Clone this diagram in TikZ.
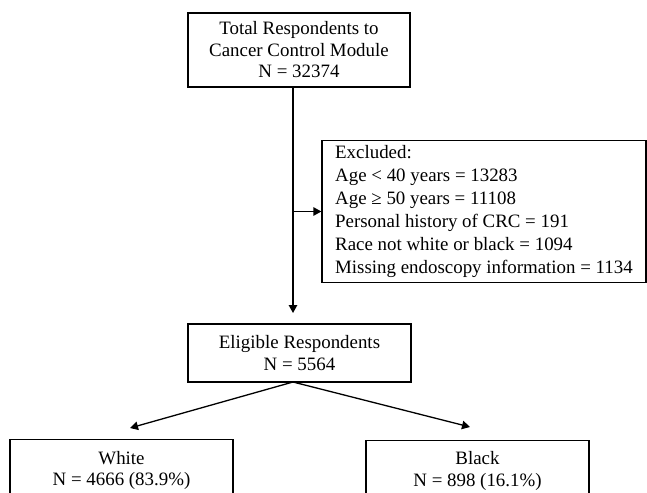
\documentclass[tikz,border=0pt]{standalone}
\usepackage{fontspec}
\setmainfont{Liberation Serif}
\usetikzlibrary{arrows.meta}
\tikzset{
  box/.style={draw=black, line width=1.3pt, align=center, inner sep=0pt,
    font=\fontsize{18.9}{21.5}\selectfont},
  exbox/.style={draw=black, line width=1.3pt, align=left, inner sep=0pt,
    font=\fontsize{18.9}{23}\selectfont},
  conn/.style={line width=1.3pt, -{Triangle[length=8pt,width=8.5pt]}},
  plain/.style={line width=1.3pt}
}
\begin{document}
\begin{tikzpicture}[x=1pt,y=-1pt]
\useasboundingbox (0,0) rectangle (647,492);
\clip (0,0) rectangle (647,492);
\node[box, minimum width=222pt, minimum height=74pt] (top) at (299,50)
  {Total Respondents to\\Cancer Control Module\\N = 32374};
\node[exbox, minimum width=324pt, minimum height=142pt] (excl) at (484,211.5)
  {Excluded:\\Age < 40 years = 13283\\Age ≥ 50 years = 11108\\Personal history of CRC = 191\\Race not white or black = 1094\\Missing endoscopy information = 1134};
\node[box, minimum width=223pt, minimum height=58pt] (elig) at (299.5,353)
  {Eligible Respondents\\N = 5564};
\node[box, minimum width=223pt, minimum height=62pt, anchor=north] (white) at (121.5,439)
  {White\\N = 4666 (83.9\%)};
\node[box, minimum width=223pt, minimum height=62pt, anchor=north] (black) at (477.5,439.5)
  {Black\\N = 898 (16.1\%)};
\coordinate (trunktip) at (293,313);
\coordinate (branch) at (293,211.5);
\coordinate (split) at (293,382);
\coordinate (whitetip) at (130,428);
\coordinate (blacktip) at (470,427);
\draw[conn] (top.south -| trunktip) -- (trunktip);
\draw[conn] (branch) -- (excl.west);
\draw[conn] (split) -- (whitetip);
\draw[conn] (split) -- (blacktip);
\end{tikzpicture}
\end{document}
